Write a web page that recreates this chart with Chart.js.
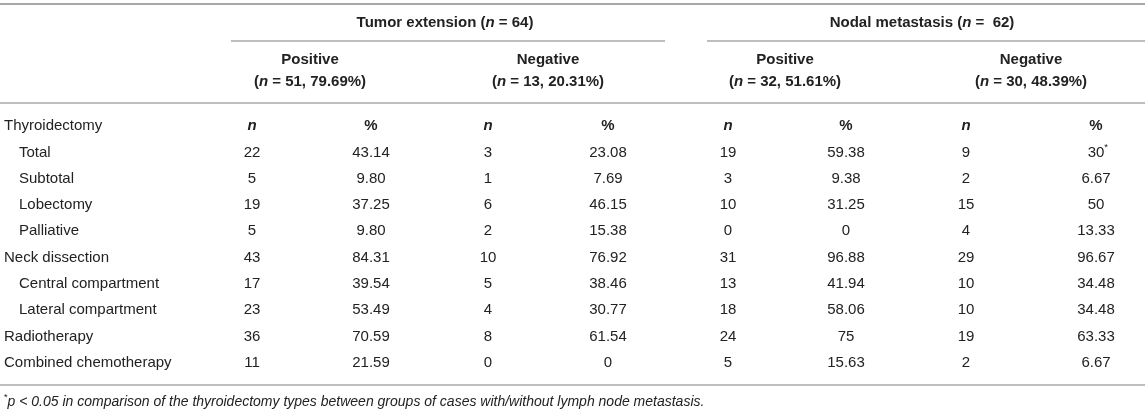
<!DOCTYPE html>
<html>
<head>
<meta charset="utf-8">
<script src="https://cdn.jsdelivr.net/npm/chart.js@4/dist/chart.umd.min.js"></script>
<style>
  body { margin: 0; background: #fff; }
  #table { display: block; }
</style>
</head>
<body>
<canvas id="table" width="1145" height="413"></canvas>
<script>
// Row labels (first one is the section row that carries the n / % headings)
const rowLabels = ['Thyroidectomy', 'Total', 'Subtotal', 'Lobectomy', 'Palliative',
    'Neck dissection', 'Central compartment', 'Lateral compartment', 'Radiotherapy', 'Combined chemotherapy'];
const indentedRows = [false, true, true, true, true, false, true, true, false, false];

// Values, rows 1..9 (Total .. Combined chemotherapy)
const tumorPosN   = ['22', '5', '19', '5', '43', '17', '23', '36', '11'];
const tumorPosPct = ['43.14', '9.80', '37.25', '9.80', '84.31', '39.54', '53.49', '70.59', '21.59'];
const tumorNegN   = ['3', '1', '6', '2', '10', '5', '4', '8', '0'];
const tumorNegPct = ['23.08', '7.69', '46.15', '15.38', '76.92', '38.46', '30.77', '61.54', '0'];
const nodalPosN   = ['19', '3', '10', '0', '31', '13', '18', '24', '5'];
const nodalPosPct = ['59.38', '9.38', '31.25', '0', '96.88', '41.94', '58.06', '75', '15.63'];
const nodalNegN   = ['9', '2', '15', '4', '29', '10', '10', '19', '2'];
const nodalNegPct = ['30*', '6.67', '50', '13.33', '96.67', '34.48', '34.48', '63.33', '6.67'];

const columns = [tumorPosN, tumorPosPct, tumorNegN, tumorNegPct, nodalPosN, nodalPosPct, nodalNegN, nodalNegPct];
const columnHeads = ['n', '%', 'n', '%', 'n', '%', 'n', '%'];

// Layout: column centres on the x scale (0..1145)
const colX = [252, 371, 488, 608, 728, 846, 966, 1096];

const FONT = '"Liberation Sans", Arial, sans-serif';
const SIZE = 15;
const TEXT = '#222';
const RULE = '#a8a8a8';

// draw a run of text segments: [text, style] with style in '', 'i', 'b', 'bi', 'sup'
function segFont(style, size) {
    if (style === 'sup') return (size * 0.65) + 'px ' + FONT;
    let f = '';
    if (style.indexOf('i') >= 0) f += 'italic ';
    if (style.indexOf('b') >= 0) f += 'bold ';
    return f + size + 'px ' + FONT;
}
function drawRun(ctx, segs, x, y, align, size) {
    let total = 0;
    segs.forEach(s => { ctx.font = segFont(s[1], size); total += ctx.measureText(s[0]).width; });
    let cx = align === 'center' ? x - total / 2 : (align === 'right' ? x - total : x);
    ctx.textAlign = 'left';
    segs.forEach(s => {
        ctx.font = segFont(s[1], size);
        const dy = s[1] === 'sup' ? -size * 0.35 : 0;
        ctx.fillText(s[0], cx, y + dy);
        cx += ctx.measureText(s[0]).width;
    });
}
function rule(ctx, x1, x2, y, w) {
    ctx.beginPath();
    ctx.strokeStyle = RULE;
    ctx.lineWidth = w;
    ctx.moveTo(x1, y);
    ctx.lineTo(x2, y);
    ctx.stroke();
}

const tablePlugin = {
    id: 'tablePlugin',
    afterDatasetsDraw(chart) {
        const ctx = chart.ctx;
        const xs = chart.scales.x;
        const ys = chart.scales.y;
        const rowH = ys.getPixelForValue(1) - ys.getPixelForValue(0);
        const top = ys.getPixelForValue(0) - rowH / 2;
        const bottom = ys.getPixelForValue(rowLabels.length - 1) + rowH / 2;
        ctx.save();
        ctx.fillStyle = TEXT;
        ctx.textBaseline = 'middle';

        // rules
        rule(ctx, 0, chart.width, 4, 2);
        rule(ctx, xs.getPixelForValue(231), xs.getPixelForValue(665), top - 72, 1.5);
        rule(ctx, xs.getPixelForValue(707), xs.getPixelForValue(1145), top - 72, 1.5);
        rule(ctx, 0, chart.width, top - 10, 1.5);
        rule(ctx, 0, chart.width, bottom + 9, 1.5);

        // group headers
        drawRun(ctx, [['Tumor extension (', 'b'], ['n', 'bi'], [' = 64)', 'b']], xs.getPixelForValue(445), top - 90, 'center', SIZE);
        drawRun(ctx, [['Nodal metastasis (', 'b'], ['n', 'bi'], [' =  62)', 'b']], xs.getPixelForValue(922), top - 90, 'center', SIZE);

        const subs = [
            [310, '51, 79.69%'], [548, '13, 20.31%'], [785, '32, 51.61%'], [1031, '30, 48.39%']
        ];
        subs.forEach((s, i) => {
            const cx = xs.getPixelForValue(s[0]);
            drawRun(ctx, [[i % 2 === 0 ? 'Positive' : 'Negative', 'b']], cx, top - 53, 'center', SIZE);
            drawRun(ctx, [['(', 'b'], ['n', 'bi'], [' = ' + s[1] + ')', 'b']], cx, top - 31, 'center', SIZE);
        });

        // row labels
        rowLabels.forEach((lab, i) => {
            drawRun(ctx, [[lab, '']], indentedRows[i] ? 19 : 4, ys.getPixelForValue(i), 'left', SIZE);
        });

        // n / % headings on the first row
        columnHeads.forEach((h, c) => {
            drawRun(ctx, [[h, h === 'n' ? 'bi' : 'b']], xs.getPixelForValue(colX[c]), ys.getPixelForValue(0), 'center', SIZE);
        });

        // cell values, placed at the dataset points
        chart.data.datasets.forEach((ds, c) => {
            const meta = chart.getDatasetMeta(c);
            meta.data.forEach((pt, r) => {
                const txt = ds.cells[r];
                if (txt.endsWith('*')) {
                    const base = txt.slice(0, -1);
                    ctx.font = segFont('', SIZE);
                    const w = ctx.measureText(base).width;
                    drawRun(ctx, [[base, ''], ['*', 'sup']], pt.x - w / 2, pt.y, 'left', SIZE);
                } else {
                    drawRun(ctx, [[txt, '']], pt.x, pt.y, 'center', SIZE);
                }
            });
        });

        // footnote
        drawRun(ctx, [['*', 'sup'], ['p < 0.05 in comparison of the thyroidectomy types between groups of cases with/without lymph node metastasis.', 'i']],
            4, bottom + 26, 'left', 14);
        ctx.restore();
    }
};

const datasets = columns.map((col, c) => ({
    label: 'col' + c,
    cells: col,
    data: col.map((v, r) => ({ x: colX[c], y: rowLabels[r + 1] })),
    pointRadius: 0,
    showLine: false
}));

new Chart(document.getElementById('table'), {
    type: 'scatter',
    data: { labels: rowLabels, datasets: datasets },
    options: {
        responsive: false,
        devicePixelRatio: 1,
        animation: false,
        layout: { padding: { top: 113, bottom: 37, left: 0, right: 0 } },
        scales: {
            x: { type: 'linear', min: 0, max: 1145, display: false },
            y: { type: 'category', labels: rowLabels, offset: true, display: false }
        },
        plugins: { legend: { display: false }, tooltip: { enabled: false } }
    },
    plugins: [tablePlugin]
});
</script>
</body>
</html>
